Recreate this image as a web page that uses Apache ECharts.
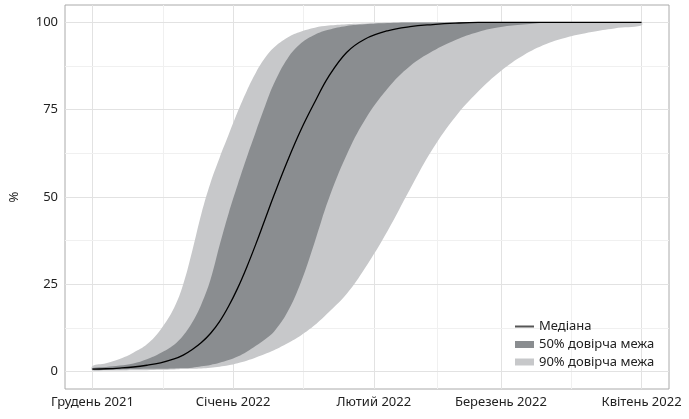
<!DOCTYPE html>
<html><head><meta charset="utf-8">
<script src="https://cdn.jsdelivr.net/npm/echarts@6/dist/echarts.min.js"></script>
<style>html,body{margin:0;padding:0;background:#fff}#c{width:689px;height:419px}</style>
</head><body><div id="c"></div>
<script>
// days since 1 Dec 2021
const days    = [0,3,6,9,12,15,18,20,22,24,26,28,30,32,34,36,38,40,43,46,49,52,56,60,65,70,75,80,85,90,95,100,105,110,115,121];
const upper90 = [1.6,2.4,3.6,5.4,7.8,12,18.3,25,34.6,45.2,54,61.2,67.8,74.4,80.4,85.6,89.8,92.8,95.7,97.4,98.5,99.1,99.5,99.7,99.9,100,100,100,100,100,100,100,100,100,100,100];
const upper50 = [1.0,1.3,1.7,2.3,3.5,5.3,7.7,10.3,14.1,19.3,26.3,36.1,45.3,53.5,61.3,68.7,75.9,82.5,89.7,94.1,96.5,97.9,99.0,99.5,99.85,100,100,100,100,100,100,100,100,100,100,100];
const median  = [0.7,0.8,1.0,1.3,1.8,2.5,3.6,4.7,6.3,8.3,10.9,14.3,18.7,23.9,29.9,36.5,43.5,50.5,60.4,69.4,77.2,84.4,91.4,95.2,97.6,98.8,99.4,99.8,100,100,100,100,100,100,100,100];
const lower50 = [0.5,0.5,0.6,0.7,0.8,0.8,0.9,1.0,1.1,1.5,1.9,2.5,3.3,4.3,5.7,7.4,9.2,11.4,17.1,25.8,37.2,49.2,62,72,81,87.5,91.8,95,97.3,98.7,99.4,99.9,100,100,100,100];
const lower90 = [0.3,0.3,0.3,0.4,0.4,0.5,0.6,0.7,0.8,0.9,1.1,1.4,1.8,2.4,3.1,4.0,5.0,6.1,8.1,10.4,13.3,16.9,22.2,29.5,40.2,52.3,63.8,73,80.2,86.1,90.6,93.8,95.9,97.3,98.3,99.1];

const monthTicks  = [0,31,62,90,121];
const monthLabels = ['Грудень 2021','Січень 2022','Лютий 2022','Березень 2022','Квітень 2022'];
const minorX = [15.5,46.5,76,105.5];
const yTicks = [0,25,50,75,100];
const minorY = [12.5,37.5,62.5,87.5];

const LIGHT = '#c7c8ca', DARK = '#8a8d90';
const FONT = 'Noto Sans';
const SMOOTH = 0.4;

const pairs = arr => days.map((d,i)=>[d, arr[i]]);

const gridLines = [];
monthTicks.forEach(v=>gridLines.push({xAxis:v, lineStyle:{color:'#e2e2e2'}}));
minorX.forEach(v=>gridLines.push({xAxis:v, lineStyle:{color:'#f0f0f0'}}));
yTicks.forEach(v=>gridLines.push({yAxis:v, lineStyle:{color:'#e2e2e2'}}));
minorY.forEach(v=>gridLines.push({yAxis:v, lineStyle:{color:'#f0f0f0'}}));

function bandSeries(name, lo, hi, color, z){
  return {
    type:'custom', name:name, coordinateSystem:'cartesian2d', silent:true, z:z, color:color,
    data: days.map((d,i)=>[d, lo[i], hi[i]]),
    encode:{x:0, y:[1,2]},
    renderItem:function(params, api){
      if (params.dataIndex !== 0) return null;
      const top = days.map((d,i)=>api.coord([d, hi[i]]));
      const bot = days.map((d,i)=>api.coord([d, lo[i]])).reverse();
      return {type:'polygon', shape:{points: top.concat(bot), smooth:SMOOTH}, style:{fill:color, stroke:null}};
    }
  };
}

const legendText = {color:'#222', fontSize:13, fontFamily:FONT};

const chart = echarts.init(document.getElementById('c'), null, {renderer:'canvas'});
chart.setOption({
  animation:false,
  grid:{left:62, top:5, right:20, bottom:30, show:true, borderColor:'#aaaaaa', borderWidth:1, backgroundColor:'transparent'},
  xAxis:{type:'value', min:-6.05, max:127.05,
    axisLine:{show:false},
    splitLine:{show:false},
    axisTick:{show:true, customValues:monthTicks, length:4, lineStyle:{color:'#aaaaaa'}},
    axisLabel:{customValues:monthTicks, formatter:v=>monthLabels[monthTicks.indexOf(v)] || '',
      color:'#222', fontSize:13, fontFamily:FONT, margin:7}},
  yAxis:{type:'value', min:-5, max:105, name:'%', nameLocation:'middle', nameGap:44,
    nameTextStyle:{color:'#222', fontSize:13, fontFamily:FONT},
    axisLine:{show:false},
    splitLine:{show:false},
    axisTick:{show:true, customValues:yTicks, length:4, lineStyle:{color:'#aaaaaa'}},
    axisLabel:{customValues:yTicks, color:'#222', fontSize:13, fontFamily:FONT, margin:7}},
  legend:[
    {orient:'vertical', left:510, top:315, itemWidth:19, itemHeight:2, icon:'rect',
     textStyle:legendText, data:[{name:'Медіана', itemStyle:{color:'#555'}}]},
    {orient:'vertical', left:510, top:333, itemWidth:19, itemHeight:7, itemGap:4.5, icon:'rect',
     textStyle:legendText,
     data:[{name:'50% довірча межа', itemStyle:{color:DARK}}, {name:'90% довірча межа', itemStyle:{color:LIGHT}}]}
  ],
  series:[
    {type:'line', name:'_grid', symbol:'none', showSymbol:false, data:pairs(median),
     lineStyle:{width:0, opacity:0}, silent:true, z:1,
     markLine:{silent:true, z:1, symbol:['none','none'], label:{show:false}, animation:false,
       lineStyle:{type:'solid', width:1}, emphasis:{disabled:true}, data:gridLines}},
    bandSeries('90% довірча межа', lower90, upper90, LIGHT, 2),
    bandSeries('50% довірча межа', lower50, upper50, DARK, 3),
    {type:'line', name:'Медіана', symbol:'none', showSymbol:false, smooth:SMOOTH, color:'#000',
     lineStyle:{color:'#000', width:1.3}, data:pairs(median), z:4, silent:true}
  ]
});
</script></body></html>
